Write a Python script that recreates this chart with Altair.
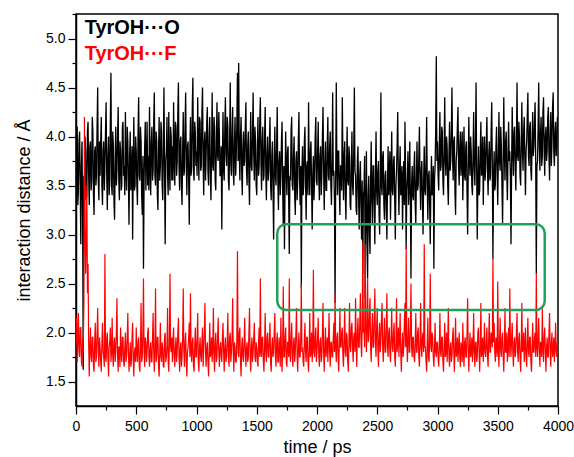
import altair as alt
import pandas as pd

STEP_PS = 5

tyroh_o = [
    3.25, 3.80, 4.10, 3.30, 3.45, 3.95, 4.05, 3.50, 2.90, 3.70, 3.95, 3.20, 1.62, 3.60, 3.10, 4.00, 3.85, 3.35, 3.40, 4.05,
    4.15, 3.60, 3.30, 3.90, 3.95, 3.45, 3.55, 4.20, 4.05, 3.40, 3.20, 3.85, 3.90, 3.50, 3.60, 4.10, 4.50, 3.55, 3.35, 3.95,
    3.60, 3.95, 4.20, 3.50, 3.30, 3.85, 3.95, 3.45, 3.70, 4.05, 4.35, 3.60, 3.25, 3.80, 4.00, 3.40, 3.55, 4.15, 4.65, 3.50,
    3.40, 4.05, 3.90, 3.35, 3.15, 3.75, 4.10, 3.50, 3.65, 4.00, 4.30, 3.55, 3.35, 3.95, 3.85, 3.45, 3.50, 4.10, 4.15, 3.60,
    3.70, 3.40, 4.25, 3.65, 3.45, 4.10, 3.95, 3.55, 3.10, 3.80, 4.05, 3.45, 3.60, 3.90, 2.95, 3.70, 4.20, 3.45, 3.50, 4.00,
    3.85, 3.50, 3.30, 4.05, 4.40, 3.60, 3.55, 4.10, 3.95, 3.40, 3.20, 3.80, 2.65, 3.55, 3.90, 4.15, 3.45, 3.75, 4.15, 3.50,
    3.80, 3.45, 4.30, 3.70, 3.40, 3.95, 4.10, 3.55, 3.65, 4.15, 4.45, 3.60, 3.50, 4.05, 3.95, 3.40, 3.25, 3.85, 4.20, 3.55,
    3.70, 4.15, 4.05, 3.50, 3.35, 3.90, 4.50, 3.65, 2.90, 3.75, 3.85, 4.20, 3.60, 3.40, 4.25, 3.70, 3.45, 4.10, 4.00, 3.55,
    3.90, 3.55, 4.35, 3.80, 3.50, 4.15, 4.10, 3.60, 3.75, 4.25, 4.55, 3.70, 3.45, 3.95, 4.00, 3.50, 3.30, 3.85, 4.25, 3.60,
    3.65, 4.10, 4.45, 3.75, 3.40, 3.90, 3.95, 3.55, 3.10, 3.85, 4.20, 3.60, 3.70, 4.30, 4.60, 3.65, 3.55, 4.15, 4.05, 3.70,
    3.85, 3.60, 4.40, 3.90, 3.55, 4.20, 4.15, 3.65, 3.70, 4.25, 4.50, 3.75, 3.40, 3.95, 4.05, 3.55, 3.80, 4.15, 4.30, 3.65,
    3.50, 4.00, 4.20, 3.60, 3.35, 3.85, 4.45, 3.70, 3.65, 4.20, 4.10, 3.55, 3.45, 3.95, 4.35, 3.80, 3.75, 4.25, 4.00, 3.60,
    3.60, 3.90, 3.05, 3.75, 4.25, 3.65, 3.55, 4.10, 4.40, 3.80, 3.70, 4.20, 4.10, 3.55, 3.45, 3.95, 4.55, 3.70, 3.60, 4.05,
    4.30, 3.65, 3.50, 3.95, 4.20, 3.60, 3.80, 4.15, 4.65, 3.75, 4.75, 3.85, 3.55, 4.00, 4.20, 3.65, 3.40, 3.90, 4.05, 3.70,
    3.75, 4.10, 4.35, 3.65, 3.50, 3.90, 4.05, 3.55, 3.30, 3.85, 4.25, 3.70, 3.65, 4.05, 4.45, 3.80, 3.55, 4.10, 3.95, 3.50,
    3.40, 3.85, 4.20, 3.60, 3.70, 4.15, 4.40, 3.75, 3.45, 3.95, 4.10, 3.55, 3.60, 4.00, 4.30, 3.65, 3.35, 3.80, 4.00, 3.55,
    3.65, 3.95, 4.20, 3.50, 3.35, 3.80, 3.95, 3.45, 2.95, 3.70, 4.10, 3.60, 3.50, 3.90, 4.30, 3.55, 3.25, 3.75, 3.85, 3.40,
    3.60, 3.95, 4.15, 3.45, 3.10, 3.70, 2.85, 3.55, 4.05, 3.65, 3.40, 3.85, 3.90, 3.35, 2.80, 3.60, 3.55, 4.05, 4.20, 3.50,
    3.45, 3.80, 4.00, 3.40, 3.20, 3.75, 3.85, 3.35, 3.55, 3.95, 4.25, 3.60, 3.30, 3.70, 2.45, 3.65, 3.90, 3.40, 3.50, 3.95,
    4.10, 3.55, 3.15, 3.70, 3.75, 3.40, 4.35, 3.65, 3.40, 3.85, 3.95, 3.50, 3.05, 3.60, 3.80, 3.35, 3.60, 4.00, 4.20, 3.55,
    3.50, 3.85, 4.15, 3.55, 3.35, 3.80, 3.90, 3.40, 3.60, 4.00, 4.30, 3.65, 3.25, 3.70, 3.95, 3.45, 3.45, 3.90, 4.20, 3.60,
    3.55, 3.90, 4.05, 3.50, 3.30, 3.75, 4.45, 3.60, 3.65, 3.35, 2.30, 3.55, 4.55, 3.70, 3.40, 3.85, 3.85, 3.45, 3.20, 3.70,
    3.70, 3.45, 4.40, 3.75, 3.35, 3.80, 3.95, 3.40, 3.15, 3.65, 4.10, 3.55, 3.50, 3.90, 3.80, 3.30, 3.25, 3.70, 4.05, 3.50,
    3.40, 3.85, 4.50, 3.65, 3.60, 3.25, 3.20, 3.75, 3.90, 3.40, 3.05, 3.60, 3.75, 3.30, 2.95, 3.55, 2.60, 3.40, 3.45, 3.80,
    2.35, 3.20, 3.85, 3.05, 2.55, 3.40, 3.60, 3.00, 2.80, 3.55, 3.95, 3.35, 3.10, 3.70, 3.70, 3.25, 2.90, 3.60, 4.05, 3.45,
    3.30, 3.65, 3.75, 3.20, 3.00, 3.55, 4.45, 3.50, 3.40, 3.80, 3.85, 3.30, 3.15, 3.60, 3.65, 3.25, 2.95, 3.50, 3.90, 3.40,
    3.55, 3.85, 3.15, 3.60, 4.05, 3.45, 3.40, 3.75, 3.80, 3.35, 2.95, 3.50, 3.65, 3.90, 4.25, 3.55, 3.20, 3.65, 3.90, 3.40,
    3.45, 3.70, 3.05, 3.55, 3.75, 3.30, 4.15, 3.60, 2.85, 3.45, 3.60, 3.85, 3.30, 3.50, 3.95, 3.35, 2.55, 3.50, 3.70, 3.40,
    3.35, 3.70, 3.85, 3.30, 3.10, 3.60, 3.95, 3.45, 3.50, 3.80, 4.10, 3.55, 3.25, 3.65, 3.75, 3.35, 3.00, 3.55, 3.90, 3.45,
    3.40, 3.75, 4.20, 3.50, 3.15, 3.60, 3.65, 3.30, 2.90, 3.50, 3.80, 3.40, 3.45, 3.70, 2.65, 3.55, 3.70, 4.05, 4.82, 3.75,
    3.95, 3.60, 3.45, 3.90, 4.25, 3.65, 3.70, 4.10, 4.05, 3.55, 3.40, 3.85, 4.40, 3.75, 3.60, 4.00, 3.90, 3.50, 3.30, 3.80,
    4.15, 3.65, 3.75, 4.05, 4.50, 3.80, 3.55, 3.95, 4.00, 3.45, 3.20, 3.75, 3.85, 4.10, 4.30, 3.70, 3.50, 3.90, 4.05, 3.60,
    3.80, 4.05, 3.35, 3.70, 4.10, 3.60, 3.55, 3.90, 3.95, 3.45, 3.00, 3.65, 4.20, 3.75, 3.60, 4.00, 3.85, 3.50, 3.40, 3.80,
    4.25, 3.70, 3.50, 3.90, 4.55, 3.65, 2.95, 3.55, 3.90, 3.40, 3.45, 3.85, 4.15, 3.60, 3.65, 4.00, 3.30, 3.75, 4.00, 3.55,
    3.70, 3.95, 4.20, 3.65, 3.40, 3.80, 3.95, 3.55, 3.60, 4.05, 4.35, 3.70, 2.75, 3.60, 3.85, 3.45, 3.50, 3.90, 4.10, 3.65,
    3.30, 3.80, 4.25, 3.75, 3.65, 4.10, 3.90, 3.50, 3.10, 3.70, 4.40, 3.85, 3.55, 3.95, 4.05, 3.60, 3.35, 3.80, 4.15, 3.75,
    3.85, 3.60, 2.90, 3.70, 4.30, 3.85, 3.60, 4.05, 4.10, 3.70, 3.45, 3.90, 4.55, 3.80, 3.75, 4.15, 4.00, 3.60, 3.50, 3.95,
    4.35, 3.85, 3.65, 4.05, 4.20, 3.75, 3.40, 3.85, 3.95, 4.20, 4.45, 3.80, 3.70, 4.10, 4.15, 3.65, 3.55, 3.95, 4.25, 3.80,
    3.90, 4.15, 4.35, 3.75, 2.60, 3.70, 3.75, 4.10, 4.55, 3.90, 3.65, 4.05, 4.20, 3.70, 3.80, 4.25, 4.40, 3.85, 3.60, 4.00,
    4.10, 3.75, 3.85, 4.20, 4.30, 3.80, 3.55, 4.00, 4.25, 3.70, 3.95, 4.30, 4.45, 3.85, 3.70, 4.05, 4.15, 3.80, 3.90, 4.20,
]

tyroh_f = [
    1.90, 2.15, 1.70, 1.95, 2.20, 1.80, 1.75, 2.05, 2.05, 1.70, 1.65, 1.95, 1.80, 2.30, 4.20, 3.10, 2.60, 2.90, 3.50, 2.40,
    2.70, 1.90, 1.55, 1.85, 2.05, 1.75, 1.70, 1.95, 1.95, 1.65, 1.60, 1.90, 2.10, 1.70, 1.75, 2.00, 2.25, 1.80, 1.65, 1.95,
    1.85, 1.70, 1.60, 1.90, 2.10, 1.80, 1.75, 1.65, 2.80, 1.75, 1.70, 1.95, 2.00, 1.75, 1.55, 1.85, 1.90, 2.05, 1.70, 1.80,
    2.15, 1.75, 1.65, 1.90, 1.95, 1.70, 1.80, 2.00, 2.35, 1.75, 1.60, 1.85, 1.85, 1.65, 2.05, 1.80, 1.70, 1.95, 1.95, 1.70,
    1.65, 1.85, 2.00, 1.70, 1.75, 1.95, 2.20, 1.80, 1.60, 1.75, 1.90, 1.65, 1.70, 1.95, 2.10, 1.75, 1.55, 1.80, 1.85, 1.70,
    2.05, 1.80, 1.70, 1.90, 1.95, 1.65, 1.60, 1.85, 2.30, 1.70, 1.75, 2.00, 2.55, 1.80, 1.65, 1.95, 1.90, 1.70, 1.80, 2.00,
    2.05, 1.75, 1.65, 1.85, 1.90, 1.70, 1.70, 1.95, 2.20, 1.80, 1.60, 1.85, 2.45, 1.70, 1.75, 1.95, 1.95, 1.65, 1.55, 1.80,
    2.10, 1.75, 1.70, 1.90, 1.85, 1.65, 1.65, 1.95, 2.00, 1.70, 1.75, 1.85, 2.25, 1.70, 1.60, 1.90, 2.60, 1.85, 1.80, 1.95,
    1.70, 1.90, 2.05, 1.75, 1.65, 1.85, 1.95, 1.70, 1.80, 2.00, 2.15, 1.75, 1.60, 1.85, 1.90, 1.65, 1.75, 1.95, 2.45, 1.80,
    1.65, 1.90, 2.00, 1.70, 1.55, 1.80, 1.85, 1.95, 2.10, 1.75, 2.40, 1.80, 1.70, 1.90, 1.95, 1.65, 1.60, 1.85, 2.05, 1.75,
    1.75, 1.95, 2.20, 1.70, 1.60, 1.85, 1.95, 1.75, 1.70, 1.90, 2.05, 1.65, 1.85, 2.00, 2.30, 1.80, 1.65, 1.85, 1.90, 1.70,
    1.55, 1.80, 2.10, 1.75, 1.80, 1.95, 1.70, 1.85, 2.25, 1.75, 1.60, 1.90, 2.00, 1.70, 1.75, 1.95, 2.15, 1.80, 1.65, 1.85,
    1.90, 1.75, 1.70, 1.95, 2.10, 1.80, 1.60, 1.85, 1.95, 1.70, 1.75, 1.90, 2.20, 1.75, 1.65, 1.95, 2.00, 1.70, 1.80, 1.95,
    2.35, 1.80, 1.60, 1.90, 1.85, 1.70, 1.70, 1.95, 2.83, 1.80, 1.75, 2.00, 2.05, 1.70, 1.55, 1.85, 1.95, 1.75, 1.70, 1.90,
    2.15, 1.80, 1.65, 1.85, 1.90, 1.70, 1.75, 2.00, 2.25, 1.75, 1.60, 1.85, 1.95, 1.70, 1.80, 1.95, 2.10, 1.75, 1.70, 1.90,
    1.85, 1.70, 1.65, 1.90, 2.05, 1.75, 2.55, 1.80, 1.75, 1.95, 1.95, 1.70, 1.60, 1.85, 2.20, 1.80, 1.70, 1.95, 2.00, 1.75,
    1.75, 1.95, 2.10, 1.70, 1.60, 1.85, 1.95, 1.75, 1.80, 2.00, 2.20, 1.75, 1.65, 1.90, 2.00, 1.70, 1.70, 1.95, 1.85, 1.65,
    2.15, 1.80, 1.60, 1.85, 2.47, 1.75, 1.75, 1.95, 2.05, 1.70, 1.65, 1.90, 1.90, 1.75, 2.55, 1.80, 1.70, 1.95, 2.10, 1.75,
    1.65, 1.90, 1.95, 1.70, 1.80, 2.00, 2.25, 1.75, 1.60, 1.85, 2.00, 1.75, 1.75, 1.95, 2.50, 1.80, 1.85, 1.70, 1.65, 1.90,
    2.10, 1.80, 1.70, 1.95, 1.95, 1.70, 1.60, 1.85, 2.20, 1.75, 1.80, 2.00, 1.70, 1.85, 2.64, 1.80, 1.75, 1.95, 2.05, 1.70,
    1.80, 1.95, 2.15, 1.75, 1.65, 1.90, 1.95, 1.70, 1.75, 2.00, 2.30, 1.80, 1.60, 1.85, 2.05, 1.75, 1.85, 1.95, 1.70, 1.90,
    2.20, 1.80, 1.65, 1.90, 1.90, 1.75, 1.75, 1.95, 2.10, 1.80, 2.40, 1.85, 1.70, 1.95, 2.00, 1.75, 1.60, 1.90, 2.25, 1.85,
    1.85, 2.00, 2.05, 1.75, 1.65, 1.95, 2.25, 1.80, 1.75, 2.00, 1.95, 1.70, 1.60, 1.90, 2.30, 1.85, 1.80, 2.05, 2.10, 1.85,
    1.70, 1.95, 2.00, 1.80, 2.35, 1.90, 1.65, 2.00, 2.15, 1.85, 1.85, 2.10, 2.40, 1.90, 1.75, 2.05, 2.92, 2.00, 2.05, 1.85,
    2.90, 2.10, 1.80, 2.05, 2.55, 1.90, 1.95, 2.20, 2.35, 1.85, 1.70, 2.00, 2.20, 1.85, 1.85, 2.15, 2.45, 1.90, 1.75, 2.05,
    2.25, 1.85, 1.65, 1.95, 2.10, 1.80, 1.90, 2.15, 2.30, 1.85, 1.70, 1.95, 2.15, 1.80, 1.80, 2.05, 2.40, 1.85, 1.75, 2.00,
    2.05, 1.80, 1.70, 1.95, 2.25, 1.85, 1.80, 2.00, 2.10, 1.75, 1.65, 1.90, 2.35, 1.80, 1.90, 2.05, 1.75, 1.95, 2.20, 1.80,
    1.60, 1.85, 2.00, 1.75, 1.85, 2.10, 2.30, 1.85, 2.88, 1.90, 1.70, 1.95, 2.15, 1.80, 1.80, 2.05, 2.50, 1.85, 1.75, 1.95,
    1.95, 1.75, 1.70, 1.90, 2.20, 1.80, 1.80, 2.00, 2.05, 1.75, 1.65, 1.90, 2.30, 1.85, 1.75, 1.95, 2.00, 1.80, 2.90, 1.85,
    1.85, 1.70, 1.60, 1.90, 2.15, 1.75, 1.70, 1.95, 2.60, 1.85, 1.80, 2.00, 1.95, 1.75, 1.65, 1.85, 2.10, 1.80, 1.75, 1.90,
    1.90, 1.75, 1.65, 1.85, 2.20, 1.80, 1.75, 1.95, 1.95, 1.70, 1.60, 1.85, 2.10, 1.75, 1.80, 2.00, 1.70, 1.90, 2.25, 1.75,
    1.65, 1.85, 1.90, 1.70, 1.75, 1.95, 2.05, 1.80, 1.60, 1.85, 2.15, 1.75, 1.80, 1.95, 1.70, 1.85, 2.00, 1.75, 1.65, 1.90,
    1.85, 1.70, 2.10, 1.80, 1.65, 1.90, 1.95, 1.75, 1.75, 2.00, 2.35, 1.80, 1.60, 1.85, 2.00, 1.75, 1.80, 1.95, 1.70, 1.85,
    2.20, 1.80, 1.65, 1.90, 1.90, 1.70, 1.75, 2.00, 2.05, 1.80, 1.60, 1.85, 2.30, 1.75, 1.80, 1.95, 1.70, 1.85, 2.10, 1.80,
    1.75, 1.90, 2.05, 1.75, 1.65, 1.95, 2.20, 1.80, 1.80, 2.00, 1.95, 1.85, 2.75, 1.90, 2.10, 1.80, 1.70, 1.95, 1.85, 1.75,
    2.52, 1.85, 1.65, 1.90, 2.15, 1.80, 1.75, 1.95, 2.00, 1.75, 1.60, 1.85, 2.25, 1.80, 1.80, 2.00, 1.70, 1.85, 2.05, 1.75,
    2.45, 1.90, 1.75, 1.95, 2.10, 1.80, 1.65, 1.90, 1.95, 1.75, 1.80, 2.00, 2.20, 1.80, 1.70, 1.95, 2.00, 1.75, 1.60, 1.85,
    2.30, 1.80, 1.85, 2.00, 1.70, 1.85, 2.05, 1.75, 1.65, 1.90, 2.15, 1.80, 1.75, 1.95, 1.95, 1.70, 1.60, 1.85, 2.10, 1.80,
    1.80, 1.95, 2.00, 1.75, 2.60, 1.85, 1.75, 1.95, 2.15, 1.80, 1.65, 1.90, 1.90, 1.75, 2.25, 1.85, 1.70, 1.95, 2.05, 1.80,
    1.60, 1.85, 1.95, 1.75, 1.75, 2.00, 2.20, 1.80, 1.65, 1.90, 2.00, 1.75, 1.80, 1.95, 1.70, 1.85, 2.10, 1.80, 1.75, 1.90,
]

legend_labels = ["TyrOH\u00b7\u00b7\u00b7O", "TyrOH\u00b7\u00b7\u00b7F"]
legend_colors = ["#000000", "#ff0000"]
legend_t = [72, 72]
legend_d = [5.046, 4.78]

box_t = [1670, 3890]
box_d = [2.23, 3.105]

x_ticks = [i * 250 for i in range(17)]
y_ticks = [1.5 + 0.25 * i for i in range(16)]

FONT = "Liberation Sans"

df_o = pd.DataFrame({"t": [i * STEP_PS for i in range(len(tyroh_o))], "d": tyroh_o})
df_f = pd.DataFrame({"t": [i * STEP_PS for i in range(len(tyroh_f))], "d": tyroh_f})
df_leg = pd.DataFrame({"t": legend_t, "d": legend_d, "label": legend_labels, "color": legend_colors})
df_box = pd.DataFrame({"t1": [box_t[0]], "t2": [box_t[1]], "d1": [box_d[0]], "d2": [box_d[1]]})

x_scale = alt.Scale(domain=[0, 4000], nice=False, zero=False)
y_scale = alt.Scale(domain=[1.25, 5.25], nice=False, zero=False)

x_axis = alt.Axis(
    values=x_ticks, format="d", title="time / ps",
    labelExpr="datum.value % 500 === 0 ? datum.label : ''",
    tickSize={"condition": {"test": "datum.value % 500 === 0", "value": 8}, "value": 4},
    labelPadding=5, titlePadding=5, labelFlush=False, labelOverlap=False, grid=False,
    titleFontWeight="normal",
)
y_axis = alt.Axis(
    values=y_ticks, format=".1f", title="interaction distance / \u00c5",
    labelExpr="datum.value % 0.5 === 0 ? datum.label : ''",
    tickSize={"condition": {"test": "datum.value % 0.5 === 0", "value": 8}, "value": 4},
    labelPadding=3, titlePadding=12, labelFlush=False, labelOverlap=False, grid=False,
    titleFontWeight="normal",
)

X = alt.X("t:Q", scale=x_scale, axis=x_axis)
Y = alt.Y("d:Q", scale=y_scale, axis=y_axis)

line_o = alt.Chart(df_o).mark_line(color="#000000", strokeWidth=1.3, clip=True).encode(x=X, y=Y)
line_f = alt.Chart(df_f).mark_line(color="#ff0000", strokeWidth=1.2, clip=True).encode(x=X, y=Y)

box = alt.Chart(df_box).mark_rect(
    fillOpacity=0, stroke="#22a05a", strokeWidth=2.5, cornerRadius=9
).encode(
    x=alt.X("t1:Q", scale=x_scale, axis=x_axis), x2="t2:Q",
    y=alt.Y("d1:Q", scale=y_scale, axis=y_axis), y2="d2:Q",
)

legend = alt.Chart(df_leg).mark_text(
    align="left", baseline="alphabetic", fontSize=20, fontWeight="bold", font=FONT
).encode(
    x=alt.X("t:Q", scale=x_scale, axis=x_axis),
    y=alt.Y("d:Q", scale=y_scale, axis=y_axis),
    text="label:N",
    color=alt.Color("color:N", scale=None),
)

chart = alt.layer(line_o, line_f, box, legend).properties(
    width=482, height=392,
    padding={"left": 76, "top": 14, "right": 16, "bottom": 51},
    autosize=alt.AutoSizeParams(type="none"),
    background="white",
).configure_view(
    stroke="#000000", strokeWidth=1.5
).configure_axis(
    labelFont=FONT, labelFontSize=14, labelColor="#000000",
    titleFont=FONT, titleFontSize=18, titleFontWeight="normal", titleColor="#000000",
    domainColor="#000000", domainWidth=1.5, tickColor="#000000", tickWidth=1.2,
)

chart.save("out.html", embed_options={"renderer": "svg", "actions": False})
